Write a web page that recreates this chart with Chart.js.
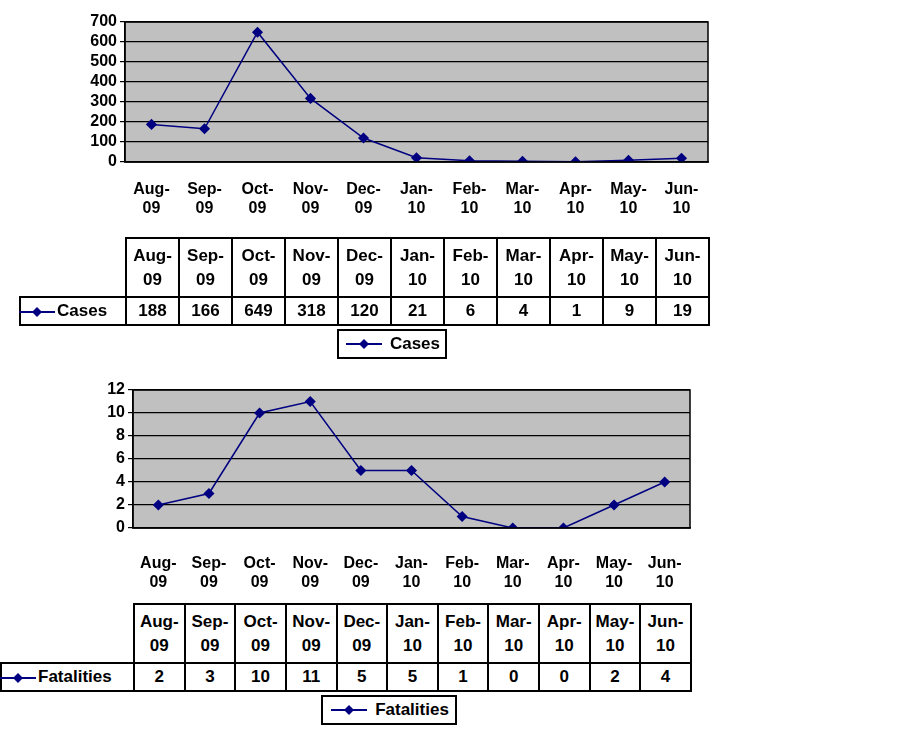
<!DOCTYPE html>
<html><head><meta charset="utf-8">
<script src="https://cdn.jsdelivr.net/npm/chart.js@4/dist/chart.umd.min.js"></script>
<style>
body{margin:0;background:#fff;font-family:"Liberation Sans",Arial,sans-serif;font-weight:bold;font-size:17px}
.wrap{position:relative;width:902px;height:743px}
canvas{position:absolute;left:0}
table{position:absolute;border-collapse:collapse;table-layout:fixed}
td{border:2px solid #000;text-align:center;padding:0;line-height:24px}
td.blank{border-top:none;border-left:none}
.leg{position:absolute;border:2px solid #000;display:flex;align-items:center;justify-content:center;gap:6px;box-sizing:border-box}
</style></head><body>
<div class="wrap" id="wrap">
<canvas id="c1" width="902" height="232" style="top:0;width:902px;height:232px"></canvas>
<canvas id="c2" width="902" height="598" style="top:0;width:902px;height:598px"></canvas>
</div>
<script>
const months = [['Aug-','09'],['Sep-','09'],['Oct-','09'],['Nov-','09'],['Dec-','09'],['Jan-','10'],['Feb-','10'],['Mar-','10'],['Apr-','10'],['May-','10'],['Jun-','10']];
const cases = [188,166,649,318,120,21,6,4,1,9,19];
const fatalities = [2,3,10,11,5,5,1,0,0,2,4];
const navy = '#000080';
const font = {family:'"Liberation Sans", Arial, sans-serif', weight:'bold', size:16};

const marker = '<svg width="40" height="12"><line x1="2" y1="6" x2="38" y2="6" stroke="'+navy+'" stroke-width="2"/><path d="M20 1 L25 6 L20 11 L15 6Z" fill="'+navy+'"/></svg>';

const plotBg = {
  id:'plotBg',
  beforeDraw(c){const a=c.chartArea,x=c.ctx;x.save();x.fillStyle='#c0c0c0';x.fillRect(a.left,a.top,a.right-a.left,a.bottom-a.top);x.restore();},
  afterDraw(c){const a=c.chartArea,x=c.ctx;x.save();x.strokeStyle='#000';x.lineWidth=1.5;x.strokeRect(a.left,a.top,a.right-a.left,a.bottom-a.top);x.restore();}
};

function makeChart(id, name, data, max, step, left, right, top, bottom, h, xpad){
  return new Chart(document.getElementById(id),{
    type:'line',
    data:{labels:months,datasets:[{label:name,data:data,borderColor:navy,backgroundColor:navy,
      pointStyle:'rectRot',pointRadius:4.5,borderWidth:1.5,tension:0}]},
    options:{responsive:false,animation:false,
      layout:{padding:{left:0,right:902-right,top:top}},
      plugins:{legend:{display:false},tooltip:{enabled:false}},
      scales:{
        x:{offset:true,grid:{display:false},border:{color:'#000',width:1.5},
          ticks:{color:'#000',font:font,padding:xpad,maxRotation:0,autoSkip:false},
          afterFit(s){s.height=h-bottom;}},
        y:{min:0,max:max,grid:{color:'#000',lineWidth:1.2,tickLength:5,tickColor:'#000'},border:{color:'#000',width:1.5},
          ticks:{stepSize:step,autoSkip:false,color:'#000',font:font,padding:3},
          afterFit(s){s.width=left;}}
      }},
    plugins:[plotBg]
  });
}

function makeTable(name, data, x0, left, right, top, legX, legY, legW){
  const w=(right-left)/data.length;
  let html='<colgroup><col style="width:'+(left-x0)+'px">'+data.map(()=>'<col style="width:'+w+'px">').join('')+'</colgroup>';
  html+='<tr style="height:59px"><td class="blank"></td>'+months.map(m=>'<td>'+m[0]+'<br>'+m[1]+'</td>').join('')+'</tr>';
  html+='<tr style="height:28px"><td style="text-align:left;white-space:nowrap">'+marker.replace('width="40"','width="40" style="vertical-align:middle;margin-left:-4px"')+name+'</td>'+data.map(v=>'<td>'+v+'</td>').join('')+'</tr>';
  const t=document.createElement('table');
  t.innerHTML=html;
  t.style.left=x0+'px';t.style.top=top+'px';t.style.width=(right-x0)+'px';
  document.getElementById('wrap').appendChild(t);
  const l=document.createElement('div');
  l.className='leg';l.innerHTML=marker+'<span>'+name+'</span>';
  l.style.left=legX+'px';l.style.top=legY+'px';l.style.width=legW+'px';l.style.height='30px';
  document.getElementById('wrap').appendChild(l);
}

makeChart('c1','Cases',cases,700,100,125,708,22,162,232,10);
makeChart('c2','Fatalities',fatalities,12,2,133,690,390,528,598,18);
makeTable('Cases',cases,19,125,708,237,337,329,110);
makeTable('Fatalities',fatalities,0,133,690,603,321,695,136);
</script>
</body></html>
